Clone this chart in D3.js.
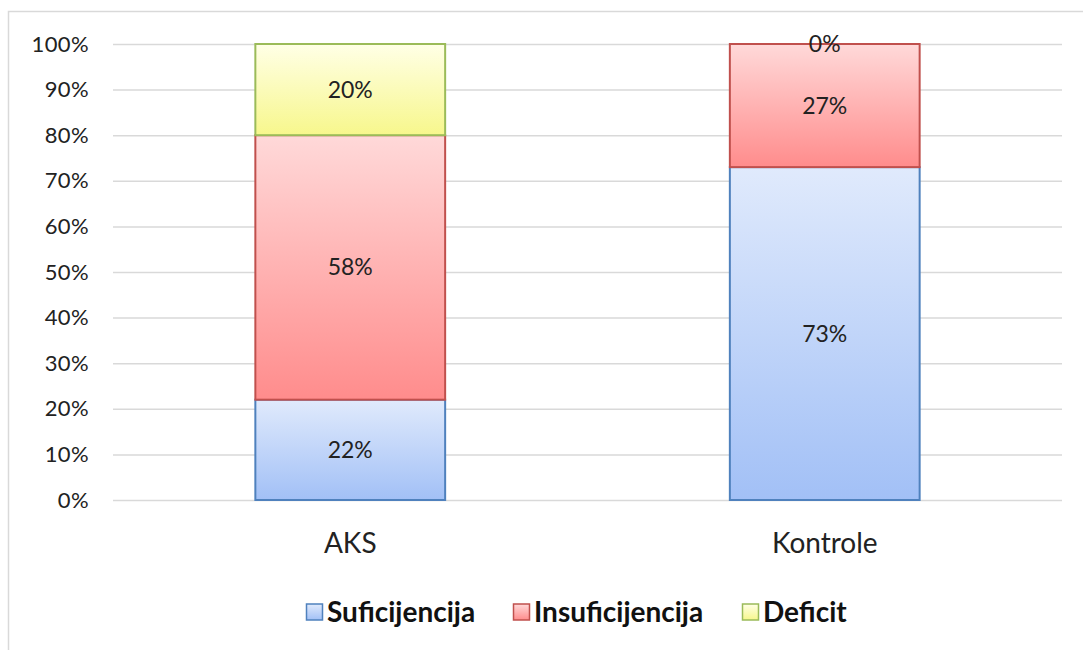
<!DOCTYPE html>
<html>
<head>
<meta charset="utf-8">
<script src="https://cdn.jsdelivr.net/npm/d3@7"></script>
<style>
  body { margin: 0; background: #fff; }
  text { font-family: Lato, "Open Sans", sans-serif; fill: #222; }
</style>
</head>
<body>
<script>
// data
var categories = ["AKS", "Kontrole"];
var seriesNames = ["Suficijencija", "Insuficijencija", "Deficit"];
var suficijencija = [22, 73];
var insuficijencija = [58, 27];
var deficit = [20, 0];
var tickValues = [0, 10, 20, 30, 40, 50, 60, 70, 80, 90, 100];

var width = 1083, height = 650;
var margin = {left: 113, right: 21, top: 44, bottom: 150};

var svg = d3.select("body").append("svg")
    .attr("width", width).attr("height", height);

// gradients per series
var styles = [
    {top: "#e0eafc", bottom: "#a2c0f6", stroke: "#4f81bd"},
    {top: "#ffd9d9", bottom: "#ff8c8c", stroke: "#c0504d"},
    {top: "#ffffe6", bottom: "#f7f78c", stroke: "#9bbb59"}
];
var defs = svg.append("defs");
styles.forEach(function (s, i) {
    var g = defs.append("linearGradient")
        .attr("id", "grad" + i)
        .attr("x1", 0).attr("y1", 0).attr("x2", 0).attr("y2", 1);
    g.append("stop").attr("offset", "0%").attr("stop-color", s.top);
    g.append("stop").attr("offset", "100%").attr("stop-color", s.bottom);
});

// outer frame
svg.append("rect")
    .attr("x", 8.5).attr("y", 11.5)
    .attr("width", width + 20).attr("height", height + 20)
    .style("fill", "none").style("stroke", "#d9d9d9").style("stroke-width", 1.5);

var x = d3.scaleBand()
    .domain(categories)
    .range([margin.left, width - margin.right])
    .paddingInner(0.6).paddingOuter(0.3);

var y = d3.scaleLinear()
    .domain([0, 100])
    .range([height - margin.bottom, margin.top]);

// gridlines
svg.append("g").selectAll("line")
    .data(tickValues)
    .enter().append("line")
    .attr("x1", margin.left).attr("x2", width - margin.right)
    .attr("y1", function (d) { return y(d) + 0.5; })
    .attr("y2", function (d) { return y(d) + 0.5; })
    .style("stroke", "#d9d9d9").style("stroke-width", 1.5);

// y axis labels
var yAxis = d3.axisLeft(y)
    .tickValues(tickValues)
    .tickFormat(function (d) { return d + "%"; })
    .tickSize(0).tickPadding(24);
var ya = svg.append("g")
    .attr("transform", "translate(" + margin.left + ",0)")
    .call(yAxis);
ya.select(".domain").remove();
ya.selectAll("text")
    .style("font-size", "22px")
    .style("letter-spacing", "0.4px")
    .style("font-family", "Lato, 'Open Sans', sans-serif")
    .attr("fill", "#222");

// x axis labels
var xAxis = d3.axisBottom(x).tickSize(0).tickPadding(33);
var xa = svg.append("g")
    .attr("transform", "translate(0," + y(0) + ")")
    .call(xAxis);
xa.select(".domain").remove();
xa.selectAll("text")
    .style("font-size", "28px")
    .style("font-family", "Lato, 'Open Sans', sans-serif")
    .attr("fill", "#222");

// stack
var rows = categories.map(function (c, i) {
    return {cat: c, Suficijencija: suficijencija[i], Insuficijencija: insuficijencija[i], Deficit: deficit[i]};
});
var stacked = d3.stack().keys(seriesNames)(rows);

var layers = svg.append("g").selectAll("g")
    .data(stacked)
    .enter().append("g");

layers.selectAll("rect")
    .data(function (d, i) { return d.map(function (p) { return {p: p, i: i}; }); })
    .enter().append("rect")
    .filter(function (d) { return d.p[1] - d.p[0] > 0; })
    .attr("x", function (d) { return x(d.p.data.cat); })
    .attr("width", x.bandwidth())
    .attr("y", function (d) { return y(d.p[1]); })
    .attr("height", function (d) { return y(d.p[0]) - y(d.p[1]); })
    .style("fill", function (d) { return "url(#grad" + d.i + ")"; })
    .style("stroke", function (d) { return styles[d.i].stroke; })
    .style("stroke-width", 2);

// value labels
layers.selectAll("text")
    .data(function (d) { return d; })
    .enter().append("text")
    .attr("x", function (d) { return x(d.data.cat) + x.bandwidth() / 2; })
    .attr("y", function (d) { return (y(d[0]) + y(d[1])) / 2; })
    .attr("dy", "0.35em")
    .attr("text-anchor", "middle")
    .style("font-size", "23px")
    .text(function (d) { return (d[1] - d[0]) + "%"; });

// legend
var legendX = [306, 513, 742];
var legend = svg.append("g").selectAll("g")
    .data(seriesNames)
    .enter().append("g")
    .attr("transform", function (d, i) { return "translate(" + legendX[i] + ",612)"; });
legend.append("rect")
    .attr("x", 0.5).attr("y", -8).attr("width", 16).attr("height", 16)
    .style("fill", function (d, i) { return "url(#grad" + i + ")"; })
    .style("stroke", function (d, i) { return styles[i].stroke; })
    .style("stroke-width", 1.5);
legend.append("text")
    .attr("x", 21).attr("dy", "0.36em")
    .style("font-size", "28px").style("font-weight", "bold")
    .style("fill", "#111")
    .text(function (d) { return d; });
</script>
</body>
</html>
